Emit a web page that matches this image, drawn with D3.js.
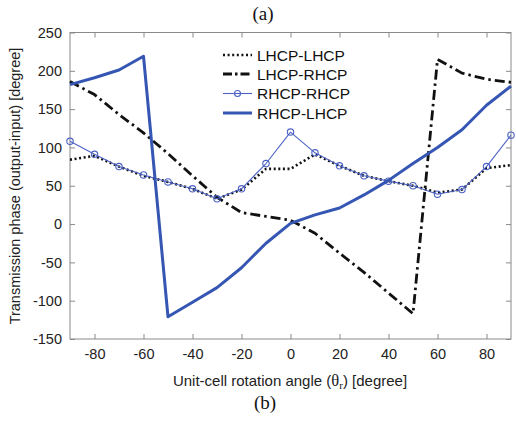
<!DOCTYPE html>
<html><head><meta charset="utf-8">
<script src="https://cdn.jsdelivr.net/npm/d3@7"></script>
<style>body{margin:0;background:#fff}svg{display:block}</style>
</head><body>
<svg id="c" width="516" height="425"></svg>
<script>
const angles = [-90,-80,-70,-60,-50,-40,-30,-20,-10,0,10,20,30,40,50,60,70,80,90];
const lhcpLhcp = [84,89,75,63,55,46,33,45,72,72,91,76,63,56,50,41,45,73,77];
const lhcpRhcp = [186,169,143,119,92,63,35,15,10,5,-12,-38,-63,-90,-117,215,197,189,185];
const rhcpRhcp = [108,91,75,64,55,46,33,46,79,120,93,76,63,56,50,39,45,75,116];
const rhcpLhcp = [182,191,201,219,-121,-102,-83,-57,-25,1,12,21,38,57,79,100,123,155,180];
const xTicks = [-80,-60,-40,-20,0,20,40,60,80];
const yTicks = [-150,-100,-50,0,50,100,150,200,250];
const seriesNames = ["LHCP-LHCP","LHCP-RHCP","RHCP-RHCP","RHCP-LHCP"];

const svg = d3.select("#c");
const L=70, R=511, T=32.5, B=339;
const x = d3.scaleLinear().domain([-90,90]).range([L,R]);
const y = d3.scaleLinear().domain([-150,250]).range([B,T]);
const axisCol = "#8a8a8a";
const font = "'Liberation Sans', Arial, sans-serif";
const fmt = d => String(d);

// frame
svg.append("rect").attr("x",L).attr("y",T).attr("width",R-L).attr("height",B-T)
  .attr("fill","none").attr("stroke",axisCol).attr("stroke-width",1);

// axes
const gx = svg.append("g").attr("transform",`translate(0,${B})`)
  .call(d3.axisBottom(x).tickValues(xTicks).tickFormat(fmt).tickSizeInner(-5).tickSizeOuter(0).tickPadding(10));
const gxt = svg.append("g").attr("transform",`translate(0,${T})`)
  .call(d3.axisTop(x).tickValues(xTicks).tickSizeInner(-5).tickSizeOuter(0).tickFormat(""));
const gy = svg.append("g").attr("transform",`translate(${L},0)`)
  .call(d3.axisLeft(y).tickValues(yTicks).tickFormat(fmt).tickSizeInner(-5).tickSizeOuter(0).tickPadding(8));
const gyr = svg.append("g").attr("transform",`translate(${R},0)`)
  .call(d3.axisRight(y).tickValues(yTicks).tickSizeInner(-5).tickSizeOuter(0).tickFormat(""));
[gx,gxt,gy,gyr].forEach(g=>{
  g.select(".domain").remove();
  g.selectAll(".tick line").attr("stroke",axisCol);
  g.selectAll("text").attr("font-family",font).attr("font-size",14.5).attr("fill","#222");
});

const line = d3.line().x((d,i)=>x(angles[i])).y(d=>y(d));
const plot = svg.append("g");

const blue = "#3556b2", blueLight = "#4d63c4";
const styles = [
  {data:lhcpLhcp, stroke:"#111", w:2.6, dash:"2,2.6"},
  {data:lhcpRhcp, stroke:"#111", w:2.8, dash:"10,4,2.5,4"},
  {data:rhcpRhcp, stroke:blueLight, w:1.1, dash:null, marker:true},
  {data:rhcpLhcp, stroke:blue, w:3, dash:null}
];
styles.forEach(s=>{
  const p = plot.append("path").datum(s.data).attr("d",line)
    .attr("fill","none").attr("stroke",s.stroke).attr("stroke-width",s.w)
    .attr("stroke-linejoin","round");
  if(s.dash) p.attr("stroke-dasharray",s.dash);
  if(s.marker){
    plot.selectAll(null).data(s.data).enter().append("circle")
      .attr("cx",(d,i)=>x(angles[i])).attr("cy",d=>y(d)).attr("r",3.2)
      .attr("fill","none").attr("stroke",s.stroke).attr("stroke-width",1.1);
  }
});

// legend
const lg = svg.append("g");
const ly = [55,74,93.5,113];
styles.forEach((s,i)=>{
  const l = lg.append("line").attr("x1",223).attr("x2",252).attr("y1",ly[i]).attr("y2",ly[i])
    .attr("stroke",s.stroke).attr("stroke-width",s.w);
  if(s.dash) l.attr("stroke-dasharray", i===1 ? "9,3,2.5,3" : s.dash);
  if(s.marker) lg.append("circle").attr("cx",237.5).attr("cy",ly[i]).attr("r",3)
    .attr("fill","none").attr("stroke",s.stroke).attr("stroke-width",1.1);
  lg.append("text").attr("x",257).attr("y",ly[i]+5.5).text(seriesNames[i])
    .attr("font-family",font).attr("font-size",15.5).attr("fill","#111");
});

// labels
const serif = "'Liberation Serif', 'Times New Roman', serif";
svg.append("text").attr("x",263).attr("y",20).attr("text-anchor","middle")
  .attr("font-family",serif).attr("font-size",19).attr("fill","#111").text("(a)");
svg.append("text").attr("x",265).attr("y",409).attr("text-anchor","middle")
  .attr("font-family",serif).attr("font-size",19).attr("fill","#111").text("(b)");
const xl = svg.append("text").attr("x",290).attr("y",386).attr("text-anchor","middle")
  .attr("font-family",font).attr("font-size",15).attr("fill","#222");
xl.append("tspan").text("Unit-cell rotation angle (");
xl.append("tspan").attr("font-family",serif).attr("font-size",16.5).text("θ");
xl.append("tspan").attr("font-family",serif).attr("font-size",11).attr("dy",3).text("r");
xl.append("tspan").attr("dy",-3).text(") [degree]");
svg.append("text").attr("transform","translate(20,186) rotate(-90)").attr("text-anchor","middle")
  .attr("font-family",font).attr("font-size",14.5).attr("fill","#222")
  .text("Transmission phase (output-input) [degree]");
</script>
</body></html>
